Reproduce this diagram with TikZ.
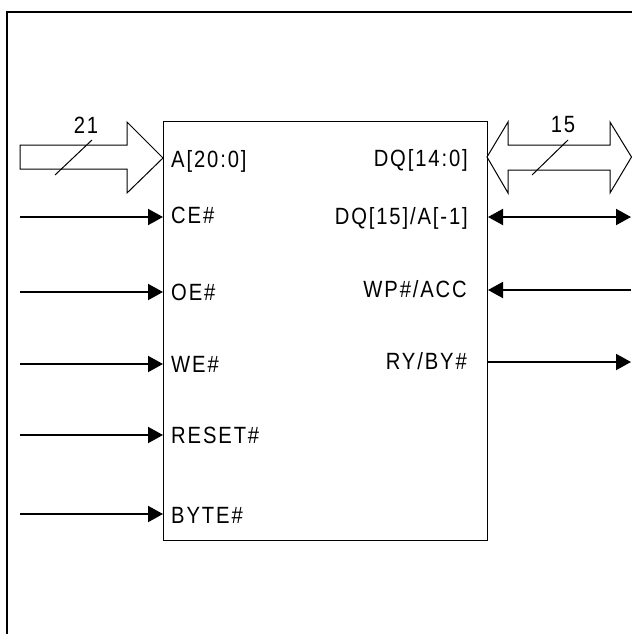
\documentclass[tikz,border=0pt]{standalone}
\usepackage{fontspec}
\setmainfont{Liberation Sans}
\newfontfamily\pinfont[FakeStretch=0.86,LetterSpace=8]{Liberation Sans}
\usetikzlibrary{arrows.meta}
\begin{document}
\begin{tikzpicture}[x=1pt,y=-1pt,
  lbl/.style={inner sep=0pt, font=\pinfont\fontsize{23.5}{27}\selectfont},
  sig/.style={line width=2pt, -{Triangle[length=15pt,width=16pt]}},
  bisig/.style={line width=2pt, {Triangle[length=15pt,width=16pt]}-{Triangle[length=15pt,width=16pt]}},
  bus/.style={line width=1pt, line join=miter},
  frameline/.style={line width=1.2pt},
  chipbox/.style={draw, line width=1pt, minimum width=324pt, minimum height=419pt, anchor=north west, inner sep=0pt}]
\useasboundingbox (0,0) rectangle (632,634);
% frame
\coordinate (fBL) at (7,634);
\coordinate (fTL) at (7,12);
\coordinate (fTR) at (632,12);
\draw[frameline] (fBL) -- (fTL) -- (fTR);
% chip
\node[chipbox] (chip) at (163,121) {};
% address bus (input)
\coordinate (aT) at (163,158);
\draw[bus] (20,145) -- (127,145) -- (127,122) -- (aT) -- (127,193) -- (127,169) -- (20,169) -- cycle;
\coordinate (aS1) at (55,175);
\coordinate (aS2) at (92,140);
\draw[line width=1pt] (aS1) -- (aS2);
\node[lbl] (n21) at (86,125) {21};
% data bus (bidirectional)
\coordinate (dT) at (487,157);
\draw[bus] (dT) -- (508,122) -- (508,145) -- (610,145) -- (610,122) -- (631.5,157) -- (610,193) -- (610,170) -- (508,170) -- (508,193) -- cycle;
\coordinate (dS1) at (532,175);
\coordinate (dS2) at (568,140);
\draw[line width=1pt] (dS1) -- (dS2);
\node[lbl] (n15) at (563,125) {15};
% left labels
\node[lbl, anchor=base west] (lA) at (171,167) {A[20:0]};
\node[lbl, anchor=base west] (lCE) at (171,223) {CE\#};
\node[lbl, anchor=base west] (lOE) at (171,300) {OE\#};
\node[lbl, anchor=base west] (lWE) at (171,372) {WE\#};
\node[lbl, anchor=base west] (lRST) at (171,443) {RESET\#};
\node[lbl, anchor=base west] (lBYTE) at (171,523) {BYTE\#};
% right labels
\node[lbl, anchor=base east] (lDQ) at (468,166) {DQ[14:0]};
\node[lbl, anchor=base east] (lDQ15) at (468,224) {DQ[15]/A[-1]};
\node[lbl, anchor=base east] (lWP) at (467,297) {WP\#/ACC};
\node[lbl, anchor=base east] (lRY) at (467,369) {RY/BY\#};
% left signal ends
\coordinate (ceL) at (20,217);
\coordinate (oeL) at (20,292);
\coordinate (weL) at (20,364);
\coordinate (rstL) at (20,435);
\coordinate (byteL) at (20,514);
\draw[sig] (ceL) -- (ceL -| chip.west);
\draw[sig] (oeL) -- (oeL -| chip.west);
\draw[sig] (weL) -- (weL -| chip.west);
\draw[sig] (rstL) -- (rstL -| chip.west);
\draw[sig] (byteL) -- (byteL -| chip.west);
% right signal ends
\coordinate (dq15R) at (631,217);
\coordinate (wpR) at (631,290);
\coordinate (ryR) at (631,362);
\draw[bisig] (dq15R -| chip.east) -- (dq15R);
\draw[sig] (wpR) -- (wpR -| chip.east);
\draw[sig] (ryR -| chip.east) -- (ryR);
\end{tikzpicture}
\end{document}
